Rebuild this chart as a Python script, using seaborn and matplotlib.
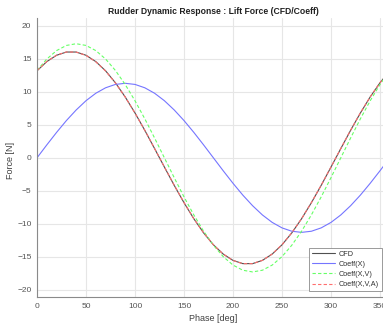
import matplotlib
matplotlib.use("Agg")
import matplotlib.pyplot as plt
import seaborn as sns
import pandas as pd

phase = [0, 10, 20, 30, 40, 50, 60, 70, 80, 90, 100, 110, 120, 130, 140, 150, 160, 170, 180,
         190, 200, 210, 220, 230, 240, 250, 260, 270, 280, 290, 300, 310, 320, 330, 340, 350, 360]

cfd = [13.19, 14.59, 15.55, 16.04, 16.04, 15.55, 14.59, 13.19, 11.38, 9.23, 6.80, 4.17, 1.40,
       -1.40, -4.17, -6.80, -9.23, -11.38, -13.19, -14.59, -15.55, -16.04, -16.04, -15.55,
       -14.59, -13.19, -11.38, -9.23, -6.80, -4.17, -1.40, 1.40, 4.17, 6.80, 9.23, 11.38, 13.19]

coeff_x = [0.0, 1.96, 3.86, 5.65, 7.26, 8.66, 9.79, 10.62, 11.13, 11.30, 11.13, 10.62, 9.79,
           8.66, 7.26, 5.65, 3.86, 1.96, 0.0, -1.96, -3.86, -5.65, -7.26, -8.66, -9.79, -10.62,
           -11.13, -11.30, -11.13, -10.62, -9.79, -8.66, -7.26, -5.65, -3.86, -1.96, 0.0]

coeff_xv = [13.25, 14.98, 16.26, 17.04, 17.30, 17.04, 16.26, 14.98, 13.25, 11.12, 8.65, 5.92,
            3.00, 0.0, -3.00, -5.92, -8.65, -11.12, -13.25, -14.98, -16.26, -17.04, -17.30,
            -17.04, -16.26, -14.98, -13.25, -11.12, -8.65, -5.92, -3.00, 0.0, 3.00, 5.92, 8.65,
            11.12, 13.25]

coeff_xva = [13.22, 14.62, 15.57, 16.05, 16.03, 15.53, 14.56, 13.16, 11.35, 9.21, 6.79, 4.17,
             1.41, -1.38, -4.15, -6.78, -9.22, -11.37, -13.19, -14.60, -15.56, -16.05, -16.04,
             -15.54, -14.58, -13.17, -11.36, -9.21, -6.78, -4.15, -1.38, 1.42, 4.19, 6.82, 9.25,
             11.40, 13.21]

series_names = ["CFD", "Coeff(X)", "Coeff(X,V)", "Coeff(X,V,A)"]
series_values = [cfd, coeff_x, coeff_xv, coeff_xva]

sns.set_style("white")
plt.rcParams["font.family"] = ["Liberation Sans", "DejaVu Sans"]

fig = plt.figure(figsize=(3.83, 3.29), dpi=100)
ax = fig.add_axes([37 / 383, 32 / 329, 352.8 / 383, 279 / 329])

colors = {"CFD": "#505050", "Coeff(X)": "#7575ff", "Coeff(X,V)": "#66ff66",
          "Coeff(X,V,A)": "#ff6e6e"}
dashed = {"CFD": False, "Coeff(X)": False, "Coeff(X,V)": True, "Coeff(X,V,A)": True}

handles = []
for name, vals in zip(series_names, series_values):
    df = pd.DataFrame({"Phase": phase, "Force": vals})
    sns.lineplot(data=df, x="Phase", y="Force", color=colors[name], linewidth=0.8, ax=ax,
                 label=name, legend=False)
    line = ax.get_lines()[-1]
    if dashed[name]:
        line.set_dashes((3, 2))
    handles.append(line)

ax.set_xlim(0, 360)
ax.set_ylim(-21.1, 21.2)
ax.set_xticks([0, 50, 100, 150, 200, 250, 300, 350])
ax.set_yticks([-20, -15, -10, -5, 0, 5, 10, 15, 20])
ax.grid(True, color="#e6e6e6", linewidth=0.8)
ax.set_axisbelow(True)
for s in ["top", "right"]:
    ax.spines[s].set_visible(False)
for s in ["left", "bottom"]:
    ax.spines[s].set_color("#8a8a8a")
    ax.spines[s].set_linewidth(0.8)
ax.tick_params(axis="both", direction="in", length=3, width=0.6, color="#8a8a8a",
               labelsize=6, labelcolor="#555555", pad=4)

ax.set_xlabel("Phase [deg]", fontsize=6.5, color="#404040", labelpad=3)
ax.set_ylabel("Force [N]", fontsize=6.5, color="#404040")
ax.yaxis.set_label_coords((15 - 37) / 352.8, 0.49)
fig.text(213 / 383, 1 - 12 / 329, "Rudder Dynamic Response : Lift Force (CFD/Coeff)",
         ha="center", va="center", fontsize=6.2, fontweight="bold", color="#202020")

leg = ax.legend(handles=handles, labels=series_names, loc="lower right",
                bbox_to_anchor=(382 / 383, 38 / 329),
                bbox_transform=fig.transFigure, borderaxespad=0, fontsize=5.2,
                frameon=True, fancybox=False, edgecolor="#8a8a8a", framealpha=1,
                handlelength=3.3, handletextpad=0.5, labelspacing=0.42, borderpad=0.4)
leg.get_frame().set_linewidth(0.6)
for t in leg.get_texts():
    t.set_color("#303030")

fig.savefig("out.png", dpi=100)
